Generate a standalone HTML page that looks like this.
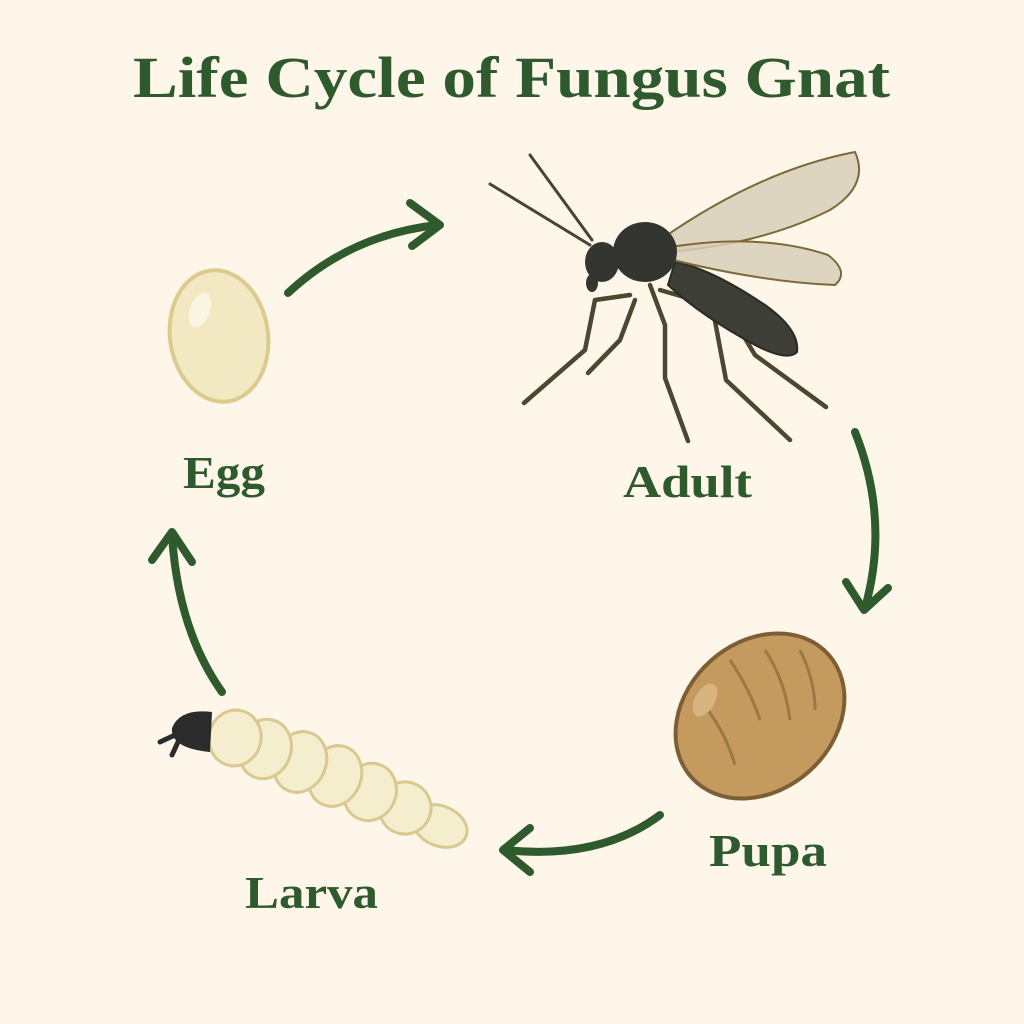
<!DOCTYPE html>
<html><head><style>
html,body{margin:0;padding:0;background:#fdf6e9;}
svg{display:block}
text{font-family:"Liberation Serif",serif;font-weight:bold;fill:#2f5a2e}
</style></head><body>
<svg width="1024" height="1024" viewBox="0 0 1024 1024">
<rect width="1024" height="1024" fill="#fdf6e9"/>
<text x="133" y="97" font-size="58" textLength="757" lengthAdjust="spacingAndGlyphs">Life Cycle of Fungus Gnat</text>
<text x="183" y="488" font-size="46" textLength="82" lengthAdjust="spacingAndGlyphs">Egg</text>
<text x="623" y="497" font-size="46" textLength="129" lengthAdjust="spacingAndGlyphs">Adult</text>
<text x="709" y="866" font-size="46" textLength="118" lengthAdjust="spacingAndGlyphs">Pupa</text>
<text x="245" y="908" font-size="46" textLength="133" lengthAdjust="spacingAndGlyphs">Larva</text>

<g fill="none" stroke="#2f5a2e" stroke-width="8" stroke-linecap="round" stroke-linejoin="round">
<path d="M288 293 Q350 235 437 225"/><path d="M410 203 L440 225 L412 246"/>
<path d="M855 432 Q890 520 865 608"/><path d="M846 582 L864 610 L888 588"/>
<path d="M660 815 Q600 860 505 850"/><path d="M530 828 L503 850 L530 872"/>
<path d="M222 692 Q178 630 172 535"/><path d="M152 560 L172 532 L192 562"/>
</g>

<!-- Egg -->
<ellipse cx="219" cy="336" rx="49" ry="66" transform="rotate(-8 219 336)" fill="#f2e8c2" stroke="#ddcb8e" stroke-width="4"/>
<ellipse cx="200" cy="310" rx="10" ry="18" transform="rotate(20 200 310)" fill="#fbf6e4"/>

<!-- Pupa -->
<ellipse cx="760" cy="716" rx="92" ry="74" transform="rotate(-42 760 716)" fill="#c59a5f" stroke="#7e5f34" stroke-width="4"/>
<g fill="none" stroke="#9b7845" stroke-width="3">
<path d="M730 660 Q750 690 760 720"/><path d="M765 650 Q785 680 790 720"/><path d="M800 650 Q815 680 815 710"/><path d="M700 700 Q725 730 735 765"/>
</g>
<ellipse cx="705" cy="700" rx="10" ry="18" transform="rotate(30 705 700)" fill="#d8b47f"/>

<!-- Larva -->
<g stroke="#d9c98f" stroke-width="3" fill="#f4eecf">
<ellipse cx="440" cy="826" rx="28" ry="20" transform="rotate(22 440 826)"/>
<ellipse cx="405" cy="808" rx="26" ry="26" transform="rotate(22 405 808)"/>
<ellipse cx="370" cy="792" rx="26" ry="29" transform="rotate(22 370 792)"/>
<ellipse cx="335" cy="776" rx="26" ry="31" transform="rotate(22 335 776)"/>
<ellipse cx="300" cy="762" rx="26" ry="31" transform="rotate(22 300 762)"/>
<ellipse cx="265" cy="749" rx="26" ry="30" transform="rotate(18 265 749)"/>
<ellipse cx="235" cy="738" rx="26" ry="28" transform="rotate(15 235 738)"/>
</g>
<path d="M212 712 Q180 708 172 728 Q170 748 210 752 Z" fill="#2b2b2b"/>
<path d="M175 735 L160 742 M178 742 L172 755" stroke="#2b2b2b" stroke-width="5" stroke-linecap="round"/>

<!-- Adult gnat -->
<g stroke="#4b4330" stroke-width="3" fill="none" stroke-linecap="round">
<path d="M590 245 L490 184"/><path d="M592 240 L530 155"/>
</g>
<g stroke="#4e4630" stroke-width="4.5" fill="none" stroke-linecap="round" stroke-linejoin="round">
<path d="M630 295 L595 300 L585 350 L524 403"/>
<path d="M635 300 L620 340 L588 373"/>
<path d="M650 285 L665 325 L665 378 L688 441"/>
<path d="M660 290 L712 305 L726 380 L790 440"/>
<path d="M740 330 L755 355 L826 407"/>
</g>
<path d="M675 262 Q710 268 765 305 Q800 330 797 352 Q788 362 755 345 Q700 315 668 285 Z" fill="#3d3e35" stroke="#2a2a25" stroke-width="2"/>
<path d="M660 240 Q760 170 855 152 Q870 185 830 210 Q760 245 665 252 Z" fill="#d8cfb8" fill-opacity="0.85" stroke="#7d6838" stroke-width="2"/>
<path d="M665 248 Q760 232 828 255 Q850 272 835 285 Q760 282 665 258 Z" fill="#d8cfb8" fill-opacity="0.85" stroke="#7d6838" stroke-width="2"/>
<ellipse cx="645" cy="252" rx="32" ry="30" fill="#343530"/>
<ellipse cx="602" cy="262" rx="17" ry="20" fill="#343530"/>
<ellipse cx="592" cy="283" rx="6" ry="9" fill="#343530"/>
</svg>
</body></html>
